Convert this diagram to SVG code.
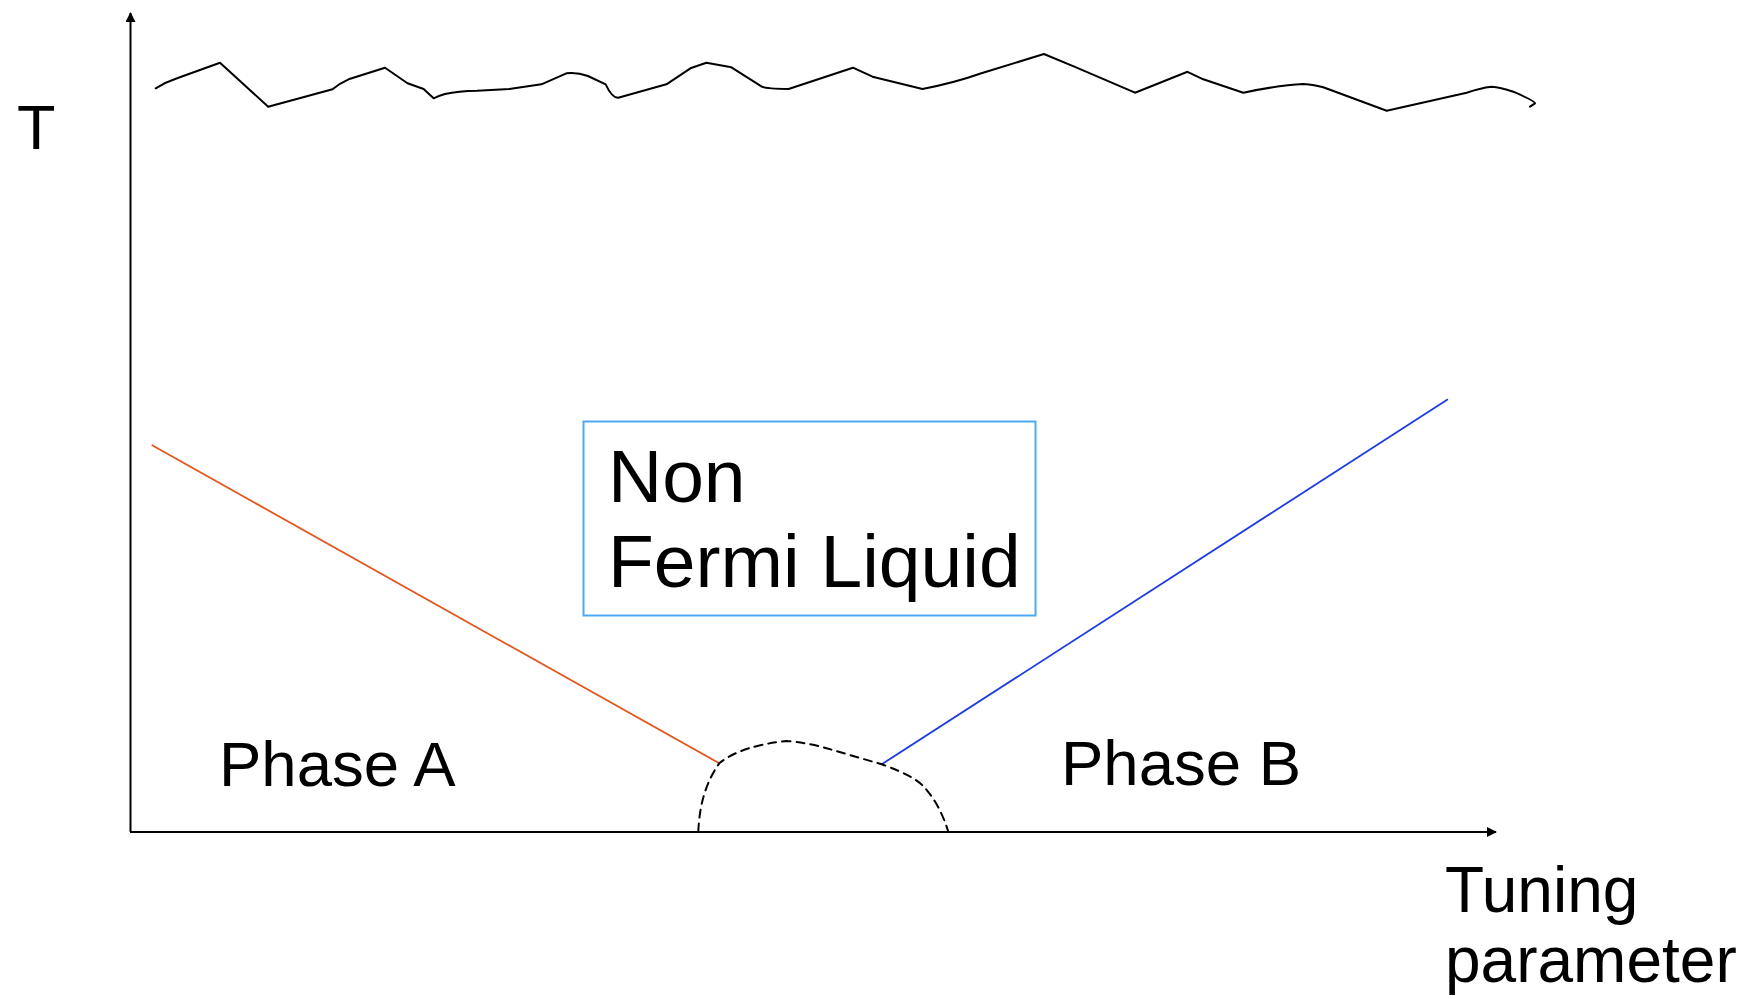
<svg xmlns="http://www.w3.org/2000/svg" width="1749" height="999" viewBox="0 0 1749 999">
<style>
text{font-family:"Liberation Sans",Arial,sans-serif;fill:#000}
.ln{fill:none;stroke-linejoin:round;stroke-linecap:round}
</style>
<defs>
<marker id="ah" viewBox="0 0 10 10" refX="9" refY="5" markerWidth="10" markerHeight="10" markerUnits="userSpaceOnUse" orient="auto">
<path d="M0,0 L10,5 L0,10 z" fill="#000"/>
</marker>
</defs>
<rect width="1749" height="999" fill="#fff"/>
<g id="axes">
<line x1="130.5" y1="832" x2="130.5" y2="13" stroke="#000" stroke-width="2" marker-end="url(#ah)"/>
<line x1="130" y1="832" x2="1496" y2="832" stroke="#000" stroke-width="2" marker-end="url(#ah)"/>
</g>
<g id="labels">
<text x="17" y="149" font-size="63">T</text>
<text x="1445" y="912" font-size="64">Tuning</text>
<text x="1445" y="982" font-size="64">parameter</text>
</g>
<g id="crossover">
<path class="ln" stroke="#000" stroke-width="2" d="M155.7,88.3 Q166,82 177.1,78.3 L220,62.7 L268.2,106.7 L332.5,89.3 Q340,83 348.6,79.3 L385,67.7 L407.5,83.3 L423.6,89 L433.6,98.3 Q438,96 445,94 Q458,91 477.1,90.7 L509.3,89 L541.4,84.3 L566.4,73.3 Q577,72 587.9,76 L605.7,84.3 Q612,98 618.2,97.7 L666.4,84.3 L690.4,68.3 L706.4,62.7 L731.4,67.3 L761.8,86.7 Q767,89 788.6,89 L852.9,67.7 L872.5,76.7 L922.5,89 Q954,83 981.4,73.3 L1043.9,54 L1074.3,66.7 L1135,92.7 L1187.5,71.8 L1203.3,79.3 L1243.3,92.7 Q1280,85 1303.3,84 Q1315,85 1323.3,87.3 L1386.7,110.7 L1466.7,92.7 Q1480,88 1491.7,86.7 Q1500,87 1513.3,91.7 Q1535,101 1535,103.3 L1530,106.7"/>
</g>
<g id="phase-a-boundary">
<line x1="151.7" y1="445" x2="719.3" y2="763.3" stroke="#E2571E" stroke-width="1.8"/>
</g>
<g id="phase-b-boundary">
<line x1="881.7" y1="764.3" x2="1447.9" y2="399.3" stroke="#1E3CE0" stroke-width="1.8"/>
</g>
<g id="dome">
<path class="ln" stroke="#000" stroke-width="2" stroke-dasharray="8,6" d="M698.3,831.7 Q700,790 719.3,763.3 Q740,746 786.7,741 Q810,743 826.7,748.3 L881.7,764.3 Q915,776 925,788 Q940,805 948.3,831.7"/>
</g>
<g id="nfl">
<rect x="583.5" y="421.5" width="452" height="194" fill="none" stroke="#4DA9F7" stroke-width="2"/>
<text x="608" y="502" font-size="75">Non</text>
<text x="608" y="587" font-size="75">Fermi Liquid</text>
</g>
<g id="phase-a">
<text x="219" y="786" font-size="63.5">Phase A</text>
</g>
<g id="phase-b">
<text x="1061" y="785" font-size="63.5">Phase B</text>
</g>
</svg>
